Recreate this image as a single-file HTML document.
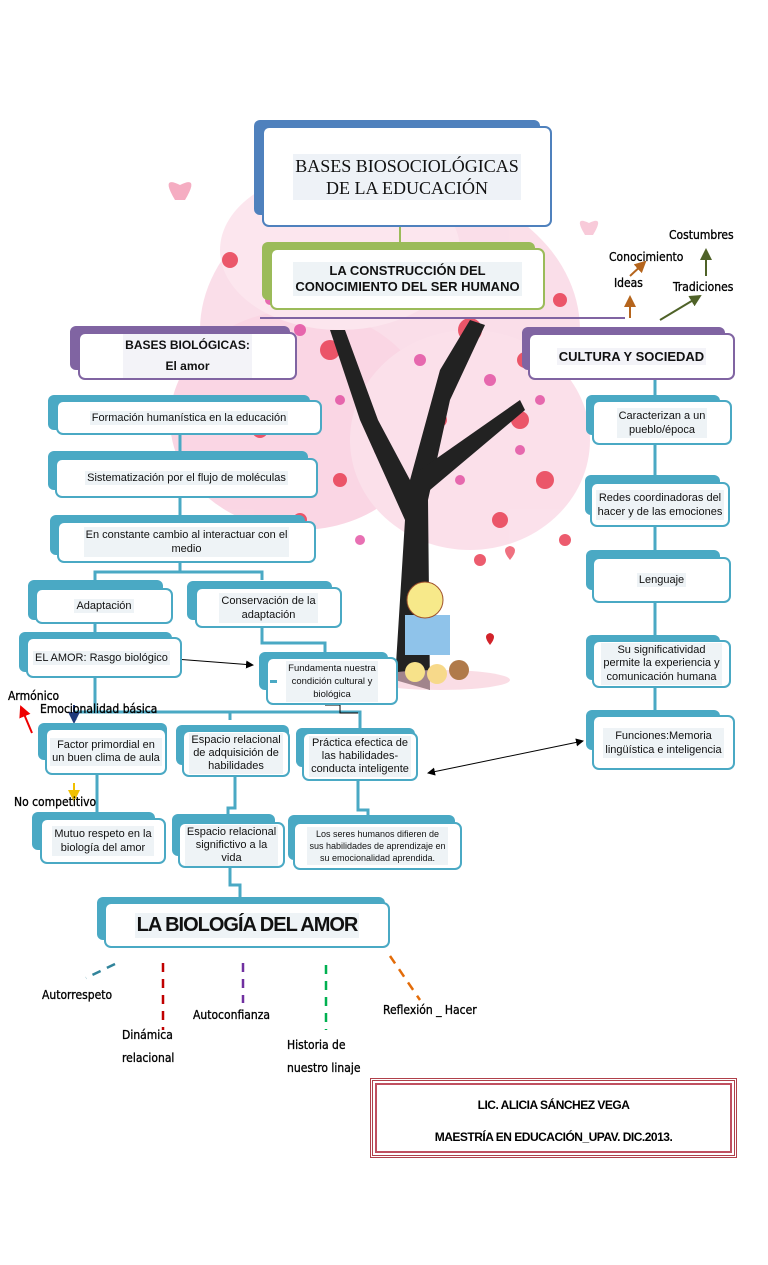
<!DOCTYPE html>
<html><head><meta charset="utf-8"><style>
body{margin:0;width:768px;height:1265px;background:#fff;position:relative;overflow:hidden;font-family:"Liberation Sans",sans-serif}
.a{position:absolute}
.b{position:absolute;border-radius:6px}
.w{position:absolute;background:#fff;border-radius:7px;border:2px solid;display:flex;align-items:center;justify-content:center;text-align:center;color:#111;box-sizing:border-box}
.w>span{background:#eef3f6;padding:1px 2px}
.bl{background:#4aa9c4}.blw{border-color:#4aa9c4}
.t{position:absolute;font-family:"DejaVu Sans Condensed","DejaVu Sans",sans-serif;font-size:12px;color:#000;white-space:nowrap;-webkit-text-stroke:0.3px #000}
</style></head><body>
<svg class="a" style="left:0;top:0" width="768" height="1265">
<g opacity="0.45">
<ellipse cx="390" cy="330" rx="190" ry="150" fill="#f6b7cf"/>
<ellipse cx="300" cy="420" rx="130" ry="110" fill="#f4a6c4"/>
<ellipse cx="470" cy="440" rx="120" ry="110" fill="#f7bcd2"/>
<ellipse cx="340" cy="250" rx="120" ry="80" fill="#f9c9da"/>
</g>
<g fill="#e8344a" opacity="0.8">
<circle cx="330" cy="350" r="10"/><circle cx="470" cy="330" r="12"/><circle cx="520" cy="420" r="9"/><circle cx="260" cy="430" r="8"/><circle cx="440" cy="420" r="7"/><circle cx="360" cy="300" r="9"/><circle cx="500" cy="520" r="8"/><circle cx="300" cy="520" r="7"/>
<circle cx="230" cy="260" r="8"/><circle cx="560" cy="300" r="7"/><circle cx="545" cy="480" r="9"/><circle cx="250" cy="370" r="6"/><circle cx="395" cy="270" r="7"/><circle cx="525" cy="360" r="8"/><circle cx="480" cy="560" r="6"/><circle cx="340" cy="480" r="7"/><circle cx="215" cy="340" r="6"/><circle cx="565" cy="540" r="6"/>
</g>
<g fill="#e0409a" opacity="0.75">
<circle cx="300" cy="330" r="6"/><circle cx="420" cy="360" r="6"/><circle cx="380" cy="450" r="6"/><circle cx="490" cy="380" r="6"/><circle cx="340" cy="400" r="5"/><circle cx="460" cy="480" r="5"/>
<circle cx="270" cy="300" r="5"/><circle cx="510" cy="300" r="5"/><circle cx="320" cy="270" r="5"/><circle cx="450" cy="280" r="5"/><circle cx="540" cy="400" r="5"/><circle cx="280" cy="470" r="5"/><circle cx="360" cy="540" r="5"/><circle cx="520" cy="450" r="5"/><circle cx="240" cy="400" r="4"/><circle cx="430" cy="300" r="5"/><circle cx="560" cy="350" r="4"/>
</g>
<path d="M395 680 L405 520 L360 420 L330 330 L345 330 L378 420 L410 480 L440 370 L470 320 L485 325 L450 400 L428 500 L430 690 Z" fill="#222"/>
<path d="M420 470 L520 400 L525 410 L430 490Z" fill="#222"/>
<line x1="260" y1="318" x2="625" y2="318" stroke="#8064a2" stroke-width="2"/>
<ellipse cx="440" cy="680" rx="70" ry="10" fill="#f6c6d4" opacity="0.6"/>
<rect x="405" y="615" width="45" height="40" fill="#8fc3ea"/>
<circle cx="425" cy="600" r="18" fill="#f7e98a" stroke="#a0522d"/>
<circle cx="415" cy="672" r="10" fill="#f7e28a"/><circle cx="437" cy="674" r="10" fill="#f7d98a"/><circle cx="459" cy="670" r="10" fill="#b07a4a"/>
<path d="M490 645 q-8-10 0-12 q8 2 0 12z" fill="#d2232a"/>
<path d="M510 560 q-10-12 0-14 q10 2 0 14z" fill="#e8344a" opacity="0.7"/>
<path d="M175 200 q-15-25 5-15 q20-10 5 15z" fill="#f18aa8" opacity="0.7"/>
<path d="M585 235 q-12-20 4-12 q16-8 4 12z" fill="#f3a6c0" opacity="0.6"/>
<!-- connectors -->
<g stroke="#4aa9c4" stroke-width="3" fill="none">
<path d="M180 435 V455"/><path d="M180 498 V520"/>
<path d="M180 563 V572 M95 580 V572 H262 V580"/>
<path d="M95 624 V633"/><path d="M262 628 V643 H325 V652"/>
<path d="M95 678 V712 M75 720 V712 H230 V720 M230 712 H360 V728"/>
<path d="M97 775 V812"/><path d="M235 777 V808 H228 V815"/><path d="M358 781 V810 H368 V816"/>
<path d="M230 868 V885 H240 V897"/>
<path d="M655 445 V475"/><path d="M655 527 V550"/><path d="M655 603 V635"/><path d="M655 688 V710"/><path d="M655 380 V395"/>
</g>
<line x1="400" y1="227" x2="400" y2="242" stroke="#9bbb59" stroke-width="2"/>
<path d="M325 705 H340 V713 H358" stroke="#000" stroke-width="1" fill="none"/>
<defs><marker id="m" markerWidth="8" markerHeight="8" refX="7" refY="4" orient="auto-start-reverse"><path d="M0 0L8 4L0 8Z" fill="#000"/></marker>
<marker id="mr" markerWidth="6" markerHeight="6" refX="5" refY="3" orient="auto"><path d="M0 0L6 3L0 6Z" fill="context-stroke"/></marker></defs>
<line x1="175" y1="659" x2="253" y2="665" stroke="#000" marker-end="url(#m)"/>
<line x1="428" y1="773" x2="583" y2="741" stroke="#000" marker-start="url(#m)" marker-end="url(#m)"/>
<line x1="32" y1="733" x2="21" y2="707" stroke="#e00" stroke-width="2" marker-end="url(#mr)"/>
<line x1="74" y1="705" x2="74" y2="722" stroke="#1f3a7a" stroke-width="2" marker-end="url(#mr)"/>
<line x1="74" y1="783" x2="74" y2="800" stroke="#f0c000" stroke-width="2" marker-end="url(#mr)"/>
<line x1="630" y1="318" x2="630" y2="297" stroke="#b5651d" stroke-width="2" marker-end="url(#mr)"/>
<line x1="630" y1="276" x2="645" y2="262" stroke="#b5651d" stroke-width="2" marker-end="url(#mr)"/>
<line x1="660" y1="320" x2="700" y2="296" stroke="#4f6228" stroke-width="2" marker-end="url(#mr)"/>
<line x1="706" y1="276" x2="706" y2="250" stroke="#4f6228" stroke-width="2" marker-end="url(#mr)"/>
<g stroke-width="2.5" fill="none" stroke-dasharray="9 7">
<line x1="115" y1="964" x2="86" y2="978" stroke="#31849b"/>
<line x1="163" y1="963" x2="163" y2="1030" stroke="#c00000"/>
<line x1="243" y1="963" x2="243" y2="1003" stroke="#7030a0"/>
<line x1="326" y1="965" x2="326" y2="1030" stroke="#00b050"/>
<line x1="390" y1="956" x2="420" y2="1000" stroke="#e36c09"/>
</g>
</svg>

<div class="b" style="left:254px;top:120px;width:286px;height:95px;background:#4f81bd"></div>
<div class="w" style="left:262px;top:126px;width:290px;height:101px;border-color:#4f81bd;font-family:'Liberation Serif',serif;font-size:18px;line-height:22px"><span style="background:#eef2f7">BASES BIOSOCIOLÓGICAS<br>DE LA EDUCACIÓN</span></div>

<div class="b" style="left:262px;top:242px;width:273px;height:58px;background:#9bbb59"></div>
<div class="w" style="left:270px;top:248px;width:275px;height:62px;border-color:#9bbb59;font-weight:bold;font-size:13px;line-height:16px"><span>LA CONSTRUCCIÓN DEL<br>CONOCIMIENTO DEL SER HUMANO</span></div>

<div class="b" style="left:70px;top:326px;width:220px;height:44px;background:#8064a2"></div>
<div class="w" style="left:78px;top:332px;width:219px;height:48px;border-color:#8064a2;font-weight:bold;font-size:12px;line-height:21px"><span style="background:#f3f3f8">BASES BIOLÓGICAS:<br>El amor</span></div>

<div class="b" style="left:522px;top:327px;width:203px;height:43px;background:#8064a2"></div>
<div class="w" style="left:528px;top:333px;width:207px;height:47px;border-color:#8064a2;font-weight:bold;font-size:13px"><span style="background:#f3f3f8">CULTURA Y SOCIEDAD</span></div>

<div class="b bl" style="left:48px;top:395px;width:262px;height:35px"></div>
<div class="w blw" style="left:56px;top:400px;width:266px;height:35px;font-size:11px"><span>Formación humanística en la educación</span></div>
<div class="b bl" style="left:48px;top:451px;width:260px;height:39px"></div>
<div class="w blw" style="left:55px;top:458px;width:263px;height:40px;font-size:11px"><span>Sistematización por el flujo de moléculas</span></div>
<div class="b bl" style="left:50px;top:515px;width:255px;height:40px"></div>
<div class="w blw" style="left:57px;top:521px;width:259px;height:42px;font-size:11px;line-height:14px"><span>En constante cambio al interactuar con el<br>medio</span></div>
<div class="b bl" style="left:28px;top:580px;width:135px;height:40px"></div>
<div class="w blw" style="left:35px;top:588px;width:138px;height:36px;font-size:11px"><span>Adaptación</span></div>
<div class="b bl" style="left:187px;top:581px;width:145px;height:39px"></div>
<div class="w blw" style="left:195px;top:587px;width:147px;height:41px;font-size:11px;line-height:14px"><span>Conservación de la<br>adaptación</span></div>
<div class="b bl" style="left:19px;top:632px;width:153px;height:40px"></div>
<div class="w blw" style="left:26px;top:637px;width:156px;height:41px;font-size:11px;justify-content:flex-start;padding-left:5px"><span>EL AMOR: Rasgo biológico</span></div>
<div class="b bl" style="left:259px;top:652px;width:129px;height:38px"></div>
<div class="w blw" style="left:266px;top:657px;width:132px;height:48px;font-size:9.5px;line-height:13px"><span>Fundamenta nuestra<br>condición cultural y<br>biológica</span></div>
<div class="a" style="left:270px;top:680px;width:7px;height:3px;background:#4aa9c4"></div>

<div class="b bl" style="left:38px;top:723px;width:129px;height:37px"></div>
<div class="w blw" style="left:45px;top:728px;width:122px;height:47px;font-size:11px;line-height:13px"><span>Factor primordial en<br>un buen clima de aula</span></div>
<div class="b bl" style="left:176px;top:725px;width:113px;height:40px"></div>
<div class="w blw" style="left:182px;top:730px;width:108px;height:47px;font-size:11px;line-height:13px"><span>Espacio relacional<br>de adquisición de<br>habilidades</span></div>
<div class="b bl" style="left:296px;top:728px;width:119px;height:39px"></div>
<div class="w blw" style="left:302px;top:732px;width:116px;height:49px;font-size:11px;line-height:13px"><span>Práctica efectica de<br>las habilidades-<br>conducta inteligente</span></div>

<div class="b bl" style="left:32px;top:812px;width:123px;height:38px"></div>
<div class="w blw" style="left:40px;top:818px;width:126px;height:46px;font-size:11px;line-height:14px"><span>Mutuo respeto en la<br>biología del amor</span></div>
<div class="b bl" style="left:172px;top:814px;width:103px;height:42px"></div>
<div class="w blw" style="left:178px;top:822px;width:107px;height:46px;font-size:11px;line-height:13px"><span>Espacio relacional<br>significtivo a la<br>vida</span></div>
<div class="b bl" style="left:288px;top:815px;width:167px;height:45px"></div>
<div class="w blw" style="left:293px;top:822px;width:169px;height:48px;font-size:9px;line-height:12px"><span>Los seres humanos difieren de<br>sus habilidades de aprendizaje en<br>su emocionalidad aprendida.</span></div>

<div class="b bl" style="left:586px;top:395px;width:134px;height:40px"></div>
<div class="w blw" style="left:592px;top:400px;width:140px;height:45px;font-size:11px;line-height:14px"><span>Caracterizan a un<br>pueblo/época</span></div>
<div class="b bl" style="left:585px;top:475px;width:135px;height:40px"></div>
<div class="w blw" style="left:590px;top:482px;width:140px;height:45px;font-size:11px;line-height:14px"><span>Redes coordinadoras del<br>hacer y de las emociones</span></div>
<div class="b bl" style="left:586px;top:550px;width:134px;height:40px"></div>
<div class="w blw" style="left:592px;top:557px;width:139px;height:46px;font-size:11px"><span>Lenguaje</span></div>
<div class="b bl" style="left:586px;top:635px;width:134px;height:45px"></div>
<div class="w blw" style="left:592px;top:640px;width:139px;height:48px;font-size:11px;line-height:13.5px"><span>Su significatividad<br>permite la experiencia y<br>comunicación humana</span></div>
<div class="b bl" style="left:586px;top:710px;width:134px;height:40px"></div>
<div class="w blw" style="left:592px;top:715px;width:143px;height:55px;font-size:11px;line-height:14px"><span>Funciones:Memoria<br>lingüística e inteligencia</span></div>

<div class="b bl" style="left:97px;top:897px;width:288px;height:43px"></div>
<div class="w blw" style="left:104px;top:902px;width:286px;height:46px;font-weight:bold;font-size:20px;letter-spacing:-1px"><span>LA BIOLOGÍA DEL AMOR</span></div>

<div class="t" style="left:669px;top:228px">Costumbres</div>
<div class="t" style="left:609px;top:250px">Conocimiento</div>
<div class="t" style="left:614px;top:276px">Ideas</div>
<div class="t" style="left:673px;top:280px">Tradiciones</div>
<div class="t" style="left:8px;top:689px">Armónico</div>
<div class="t" style="left:40px;top:702px">Emocionalidad básica</div>
<div class="t" style="left:14px;top:795px">No competitivo</div>
<div class="t" style="left:42px;top:988px">Autorrespeto</div>
<div class="t" style="left:122px;top:1028px">Dinámica</div>
<div class="t" style="left:122px;top:1051px">relacional</div>
<div class="t" style="left:193px;top:1008px">Autoconfianza</div>
<div class="t" style="left:287px;top:1038px">Historia de</div>
<div class="t" style="left:287px;top:1061px">nuestro linaje</div>
<div class="t" style="left:383px;top:1003px">Reflexión _ Hacer</div>

<div class="a" style="left:370px;top:1078px;width:367px;height:80px;border:3px double #b0404a;box-sizing:border-box;padding:2px"><div style="border:2px solid #c05060;height:100%;box-sizing:border-box;text-align:center;font-weight:bold;font-size:12px;letter-spacing:-0.5px"><div style="margin-top:13px">LIC. ALICIA SÁNCHEZ VEGA</div><div style="margin-top:18px">MAESTRÍA EN EDUCACIÓN_UPAV. DIC.2013.</div></div></div>
</body></html>
